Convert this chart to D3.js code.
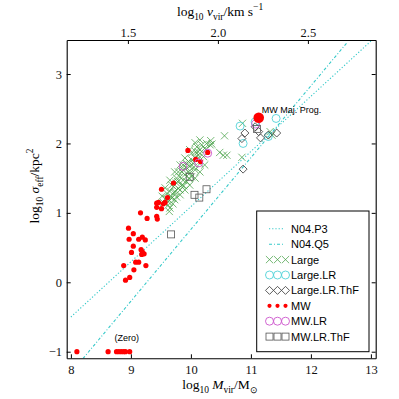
<!DOCTYPE html>
<html>
<head>
<meta charset="utf-8">
<script src="https://cdn.jsdelivr.net/npm/d3@7"></script>
<style>
  body { margin: 0; background: #fff; }
  .tick text { font-family: "Liberation Serif", serif; font-size: 12.5px; }
</style>
</head>
<body>
<svg id="chart" width="399" height="399"></svg>
<script>
// log10 Mvir, log10 sigma_eff
const large = [
  [9.65,1.07],[9.70,1.13],[9.62,1.16],[9.73,1.19],[9.76,1.23],[9.68,1.23],[9.82,1.26],[9.73,1.31],
  [9.79,1.35],[9.85,1.40],[9.76,1.43],[9.87,1.47],[9.82,1.52],[9.90,1.55],[9.96,1.59],[9.87,1.62],
  [9.98,1.67],[10.04,1.71],[9.96,1.74],[10.07,1.79],[10.12,1.83],[10.15,1.91],[10.10,1.95],[10.18,1.98],
  [10.23,1.93],[10.26,2.00],[10.01,1.52],[9.93,1.45],[9.65,1.31],[9.60,1.28],[9.71,1.38],[9.82,1.33],
  [9.90,1.33],[9.98,1.57],[10.07,1.62],[10.15,1.71],[10.21,1.81],[10.32,1.98],[10.01,1.86],[9.93,1.71],
  [9.87,1.69],[9.79,1.59],[9.76,1.50],[9.68,1.40],[9.58,1.21],[9.54,1.15],[9.64,1.02],
  [10.56,2.11],[10.33,2.04],[10.35,1.99],[10.48,1.87],[10.54,1.83],[10.60,1.83],[10.86,2.29],
  [10.85,1.80],[10.25,1.91],[11.32,2.17],[11.35,2.12],[10.12,1.88],
  [9.72,1.29],[9.78,1.45],[9.85,1.59],[9.93,1.65],[10.02,1.76],[10.08,1.88],[9.68,1.21],[9.62,1.11],
  [9.88,1.39],[9.97,1.50],[10.05,1.66],[10.13,1.79],
  [9.52,1.24],[9.57,1.36],[9.65,1.47],[9.73,1.59],[9.82,1.69],[9.90,1.79],[9.98,1.91],[10.07,2.01],
  [10.15,2.05],[9.98,1.40],[10.07,1.50],[10.15,1.59],[10.23,1.69]
]
const largeLR = [[10.82,2.25],[10.87,2.00],[11.07,2.31],[11.42,2.36],[11.29,2.10]]
const largeLRThF = [[10.90,2.15],[10.85,2.07],[11.07,2.24],[11.13,2.17],[11.16,2.08],[11.29,2.12],[11.43,2.15],[10.87,1.63]]
const mw = [
  [9.16,1.00],[9.27,0.92],[8.96,0.78],[9.04,0.70],[8.97,0.62],[9.13,0.62],[9.19,0.65],[9.24,0.61],
  [9.04,0.52],[9.17,0.47],[9.01,0.43],[9.19,0.44],[9.22,0.41],[9.18,0.40],[9.08,0.29],[9.13,0.29],
  [8.88,0.24],[9.25,0.24],[9.05,0.18],[8.98,0.07],[8.91,0.03],
  [9.43,1.14],[9.46,1.15],[9.54,1.13],[9.57,1.15],[9.43,1.08],[9.51,1.06],[9.43,0.95],[9.44,0.91],
  [9.51,1.34],[9.61,1.22],[9.71,1.43],[9.95,1.90],[10.08,1.77],[10.16,1.74],[10.28,1.87],
  [8.10,-1],[8.62,-1],[8.76,-1],[8.80,-1],[8.84,-1],[8.88,-1],[8.91,-1],[8.98,-1]
]
const mwLR = [[9.87,1.67],[10.13,1.72],[10.28,1.86],[11.08,2.28]]
const mwLRThF = [[10.26,1.34],[10.06,1.26],[10.14,1.22],[9.67,0.69],[9.98,1.52],[11.10,2.21]]
const mwMajProg = [11.13, 2.37]
const n04P3 = [[8.0,-0.5],[13.02,3.49]]
const n04Q5 = [[8.2,-1.1],[12.6,3.45]]

const legendNames = ['N04.P3','N04.Q5','Large','Large.LR','Large.LR.ThF','MW','MW.LR','MW.LR.ThF']
const legendKinds = ['dot','dashdot','x','cyanCircle','diamond','red','magCircle','square']
const bottomTicks = [8,9,10,11,12,13]
const leftTicks = [-1,0,1,2,3]
const topTicks = [1.5,2.0,2.5]

const svg = d3.select('#chart')
const cyan = '#35c9c9'

const x = d3.scaleLinear().domain([7.93, 13.08]).range([66.7, 375.7])
const y = d3.scaleLinear().domain([-1.095, 3.49]).range([358.3, 40])
// log v_vir = 2 + (log M - 10.45)/3
const xTop = d3.scaleLinear()
  .domain([2 + (7.93 - 10.45) / 3, 2 + (13.08 - 10.45) / 3])
  .range([66.7, 375.7])

svg.append('defs').append('clipPath').attr('id', 'clip')
  .append('rect').attr('x', 66.7).attr('y', 40).attr('width', 309).attr('height', 318.3)

const plot = svg.append('g').attr('clip-path', 'url(#clip)')
const line = d3.line().x(d => x(d[0])).y(d => y(d[1]))

plot.append('path').attr('d', line(n04P3))
  .attr('fill', 'none').attr('stroke', cyan).attr('stroke-width', 1.1).attr('stroke-dasharray', '1.2,2')
plot.append('path').attr('d', line(n04Q5))
  .attr('fill', 'none').attr('stroke', cyan).attr('stroke-width', 1.1).attr('stroke-dasharray', '3,2,1,2')

function marker (g, kind, cx, cy, small) {
  if (kind === 'x') {
    g.append('path').attr('d', `M${cx-3.6},${cy-3.6}L${cx+3.6},${cy+3.6}M${cx-3.6},${cy+3.6}L${cx+3.6},${cy-3.6}`)
      .attr('stroke', '#45a045').attr('stroke-width', 0.75).attr('fill', 'none')
  } else if (kind === 'cyanCircle') {
    g.append('circle').attr('cx', cx).attr('cy', cy).attr('r', 4)
      .attr('fill', 'none').attr('stroke', '#4fd2d8').attr('stroke-width', 0.9)
  } else if (kind === 'magCircle') {
    g.append('circle').attr('cx', cx).attr('cy', cy).attr('r', 4)
      .attr('fill', 'none').attr('stroke', '#cc55cc').attr('stroke-width', 0.9)
  } else if (kind === 'diamond') {
    g.append('path').attr('d', `M${cx},${cy-4}L${cx+4},${cy}L${cx},${cy+4}L${cx-4},${cy}Z`)
      .attr('fill', 'none').attr('stroke', '#333').attr('stroke-width', 0.8)
  } else if (kind === 'square') {
    g.append('rect').attr('x', cx - 3.5).attr('y', cy - 3.5).attr('width', 7).attr('height', 7)
      .attr('fill', 'none').attr('stroke', '#555').attr('stroke-width', 0.8)
  } else if (kind === 'red') {
    g.append('circle').attr('cx', cx).attr('cy', cy).attr('r', small ? 2.1 : 2.6).attr('fill', '#ff0000')
  }
}

const pts = plot.append('g')
large.forEach(d => marker(pts, 'x', x(d[0]), y(d[1])))
largeLR.forEach(d => marker(pts, 'cyanCircle', x(d[0]), y(d[1])))
largeLRThF.forEach(d => marker(pts, 'diamond', x(d[0]), y(d[1])))
mw.forEach(d => marker(pts, 'red', x(d[0]), y(d[1])))
mwLR.forEach(d => marker(pts, 'magCircle', x(d[0]), y(d[1])))
mwLRThF.forEach(d => marker(pts, 'square', x(d[0]), y(d[1])))
pts.append('circle').attr('cx', x(mwMajProg[0])).attr('cy', y(mwMajProg[1])).attr('r', 5.3).attr('fill', '#ff0000')

svg.append('text').attr('x', x(mwMajProg[0]) + 3).attr('y', y(mwMajProg[1]) - 5)
  .attr('font-family', 'Liberation Sans, Arial, sans-serif').attr('font-size', 9)
  .text('MW Maj. Prog.')
svg.append('text').attr('x', x(8.93)).attr('y', y(-0.8) + 3)
  .attr('font-family', 'Liberation Sans, Arial, sans-serif').attr('font-size', 9)
  .attr('text-anchor', 'middle').text('(Zero)')

// axes
svg.append('g').attr('transform', 'translate(0,358.3)')
  .call(d3.axisBottom(x).tickValues(bottomTicks).tickSize(-4).tickSizeOuter(0).tickPadding(6.5).tickFormat(d3.format('d')))
svg.append('g').attr('transform', 'translate(66.7,0)')
  .call(d3.axisLeft(y).tickValues(leftTicks).tickSize(-4).tickSizeOuter(0).tickPadding(4.7).tickFormat(d3.format('d')))
svg.append('g').attr('transform', 'translate(0,40)')
  .call(d3.axisTop(xTop).tickValues(topTicks).tickSize(-4).tickSizeOuter(0).tickPadding(3.5).tickFormat(d3.format('.1f')))
svg.append('g').attr('transform', 'translate(375.7,0)')
  .call(d3.axisRight(y).tickValues(leftTicks).tickSize(-4).tickSizeOuter(0).tickFormat(''))
svg.selectAll('.domain').attr('stroke', '#000').attr('stroke-width', 1.1)
svg.selectAll('.tick line').attr('stroke', '#000')
svg.selectAll('.tick text').attr('fill', '#111')

// legend
const lg = svg.append('g')
lg.append('rect').attr('x', 256.7).attr('y', 211).attr('width', 112.3).attr('height', 140.7)
  .attr('fill', '#fff').attr('stroke', '#000').attr('stroke-width', 1)
legendNames.forEach((name, i) => {
  const ry = 228.8 + i * 15.4
  const kind = legendKinds[i]
  if (kind === 'dot' || kind === 'dashdot') {
    lg.append('line').attr('x1', 269).attr('x2', 285).attr('y1', ry).attr('y2', ry)
      .attr('stroke', cyan).attr('stroke-width', 1.1)
      .attr('stroke-dasharray', kind === 'dot' ? '1.2,2' : '3,2,1,2')
  } else {
    [269.5, 277.5, 285.5].forEach(mx => marker(lg, kind, mx, ry, true))
  }
  lg.append('text').attr('x', 291).attr('y', ry + 4)
    .attr('font-family', 'Liberation Sans, Arial, sans-serif').attr('font-size', 11)
    .text(name)
})

// axis labels with sub/superscripts
function rich (t, parts, size) {
  let shift = 0
  parts.forEach(([s, kind]) => {
    const ts = t.append('tspan').text(s)
    let target = 0
    if (kind.includes('sub')) target = 0.3 * size
    if (kind.includes('sup')) target = -0.42 * size
    if (target - shift !== 0) ts.attr('dy', target - shift)
    shift = target
    if (kind.includes('sub') || kind.includes('sup')) ts.attr('font-size', size * 0.7)
    if (kind.includes('i')) ts.attr('font-style', 'italic')
  })
}
const labelFont = 'Liberation Serif, serif'
const bl = svg.append('text').attr('x', 220).attr('y', 389).attr('text-anchor', 'middle')
  .attr('font-family', labelFont).attr('font-size', 13.5)
rich(bl, [['log', 'n'], ['10', 'sub'], [' ', 'n'], ['M', 'i'], ['vir', 'sub'], ['/M', 'n'], ['⊙', 'sub']], 13.5)
const tl = svg.append('text').attr('x', 220).attr('y', 16).attr('text-anchor', 'middle')
  .attr('font-family', labelFont).attr('font-size', 13.5)
rich(tl, [['log', 'n'], ['10', 'sub'], [' ', 'n'], ['v', 'i'], ['vir', 'sub'], ['/km s', 'n'], ['−1', 'sup']], 13.5)
const yl = svg.append('text').attr('transform', 'translate(39,186) rotate(-90)').attr('text-anchor', 'middle')
  .attr('font-family', labelFont).attr('font-size', 13.5)
rich(yl, [['log', 'n'], ['10', 'sub'], [' ', 'n'], ['σ', 'i'], ['eff', 'sub'], ['/kpc', 'n'], ['2', 'sup']], 13.5)
</script>
</body>
</html>
